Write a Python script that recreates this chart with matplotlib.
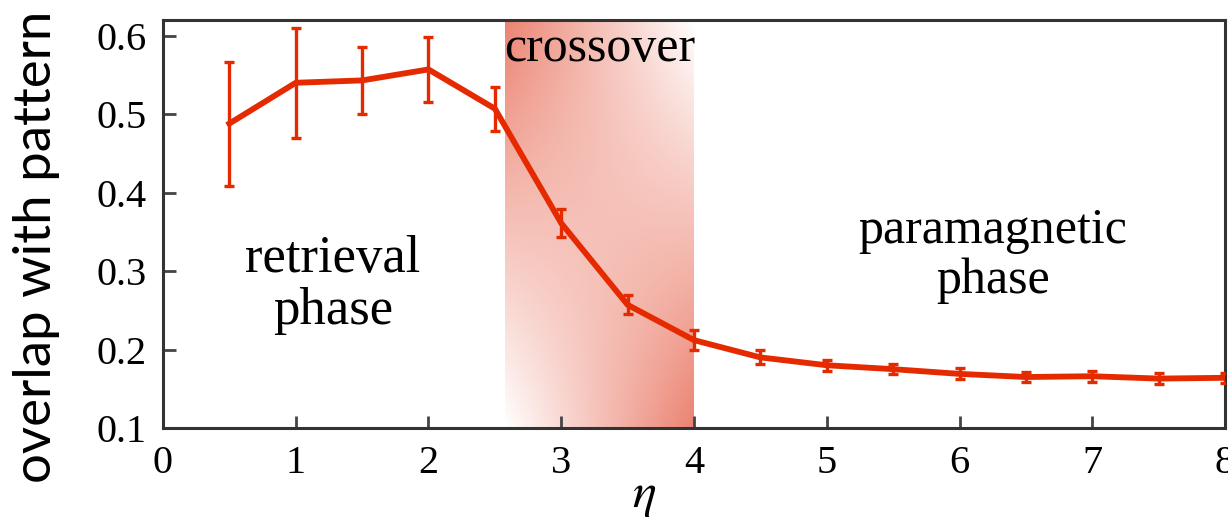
import numpy as np
import matplotlib
matplotlib.use("Agg")
import matplotlib.pyplot as plt
from matplotlib.colors import to_rgb

eta = [0.5, 1.0, 1.5, 2.0, 2.5, 3.0, 3.5, 4.0, 4.5, 5.0, 5.5, 6.0, 6.5, 7.0, 7.5, 8.0]
overlap = [0.488, 0.540, 0.543, 0.557, 0.507, 0.361, 0.257, 0.212, 0.190, 0.180,
           0.175, 0.169, 0.165, 0.166, 0.163, 0.164]
overlap_err = [0.079, 0.070, 0.043, 0.041, 0.028, 0.018, 0.012, 0.013, 0.009, 0.007,
               0.006, 0.007, 0.006, 0.007, 0.007, 0.006]

crossover = (2.58, 4.0)

plt.rcParams['mathtext.fontset'] = 'stix'
serif = 'Liberation Serif'

fig = plt.figure(figsize=(12.28, 5.18), dpi=100)
ax = fig.add_axes([0.1327, 0.1737, 0.8649, 0.7877])

ax.set_xlim(0, 8)
ax.set_ylim(0.1, 0.62)

# gradient shading of the crossover region (dark top-left and bottom-right)
n = 200
u = np.linspace(0, 1, n)[None, :]
t = np.linspace(0, 1, n)[:, None]
alpha = (1 - t) * (1 - u) + t * u
rgba = np.zeros((n, n, 4))
rgba[..., :3] = to_rgb('#EC8270')
rgba[..., 3] = alpha
ax.imshow(rgba, extent=[crossover[0], crossover[1], 0.1, 0.62], aspect='auto',
          interpolation='bilinear', zorder=0, origin='upper')

ax.errorbar(eta, overlap, yerr=overlap_err, color='#E52A00', lw=4.2,
            elinewidth=2.4, capsize=3.5, capthick=2.4, zorder=3)

ax.set_xticks(range(0, 9))
ax.set_yticks([0.1, 0.2, 0.3, 0.4, 0.5, 0.6])
ax.set_yticklabels(['0.1', '0.2', '0.3', '0.4', '0.5', '0.6'])
for lab in ax.get_xticklabels() + ax.get_yticklabels():
    lab.set_fontfamily(serif)
    lab.set_fontsize(29)
ax.tick_params(direction='in', length=9, width=2, color='#444444', pad=12)
for s in ax.spines.values():
    s.set_linewidth(2.2)
    s.set_color('#333333')

ax.set_xlabel(r'$\eta$', fontsize=36)
ax.xaxis.set_label_coords(0.453, -0.105)
ax.set_ylabel('overlap with pattern', fontsize=38, fontfamily='Lato')
ax.yaxis.set_label_coords(-0.097, 0.445)

ax.text(1.28, 0.282, 'retrieval\nphase', fontsize=38, fontfamily=serif,
        ha='center', va='center', linespacing=1.1)
ax.text(3.29, 0.583, 'crossover', fontsize=36, fontfamily=serif,
        ha='center', va='center')
ax.text(6.25, 0.32, 'paramagnetic\nphase', fontsize=36, fontfamily=serif,
        ha='center', va='center', linespacing=1.1)

fig.savefig('out.png', dpi=100)
